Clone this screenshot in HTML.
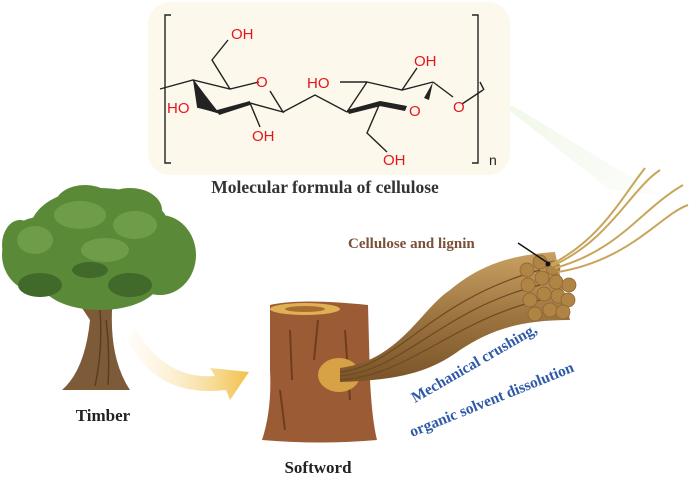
<!DOCTYPE html>
<html><head><meta charset="utf-8"><style>
html,body{margin:0;padding:0;background:#fff;}
svg{display:block}
</style></head><body>
<svg width="691" height="504" viewBox="0 0 691 504" xmlns="http://www.w3.org/2000/svg" font-family="Liberation Serif, serif">
<defs>
<linearGradient id="arr" x1="0" y1="0" x2="1" y2="0">
<stop offset="0" stop-color="#fdf3d8" stop-opacity="0.2"/><stop offset="1" stop-color="#f2c04a"/>
</linearGradient>
<linearGradient id="beam" x1="0" y1="0" x2="1" y2="1">
<stop offset="0" stop-color="#eef6e4" stop-opacity="0.9"/><stop offset="1" stop-color="#f3f8ec" stop-opacity="0.3"/>
</linearGradient>
<linearGradient id="fib" x1="0" y1="0" x2="0" y2="1">
<stop offset="0" stop-color="#c9a062"/><stop offset="0.5" stop-color="#9c7440"/><stop offset="1" stop-color="#7a5428"/>
</linearGradient>
</defs>
<polygon points="490,95 520,110 660,195 610,190" fill="url(#beam)"/>
<rect x="148" y="2" width="362" height="173" rx="22" fill="#fcf9ec"/>
<g stroke="#222" stroke-width="1.4" fill="none">
<path d="M171,15 H165 V163 H171"/>
<path d="M472,15 H478 V163 H472"/>
<path d="M160,89 L193,80 L230,89 L259,82"/>
<path d="M270,91 L283,112 L250,103 L217,112 L193,80"/>
<path d="M230,89 L212,60 L228,40"/>
<path d="M250,103 L260,127"/>
<path d="M197,107 L217,112"/>
<path d="M283,112 L315,95 L347,112"/>
<path d="M347,112 L367,82 L402,90 L433,82"/>
<path d="M340,82 L367,82"/>
<path d="M347,112 L380,103 L405,108"/>
<path d="M380,103 L367,133 L387,152"/>
<path d="M402,90 L417,68"/>
<path d="M433,82 L453,97"/>
<path d="M462,104 L483,90"/>
<path d="M480,82 L484,90"/>
</g>
<g fill="#222">
<polygon points="193,80 197,107 220,114 216,109"/>
<polygon points="217,110 250,101 250,105 219,115"/>
<polygon points="347,110 380,101 381,106 349,114"/>
<polygon points="380,101 407,106 405,111 380,106"/>
<polygon points="433,82 429,100 424,98"/>
</g>
<g fill="#e8141c" font-family="Liberation Sans, sans-serif" font-size="15">
<text x="231" y="39">OH</text>
<text x="167" y="113">HO</text>
<text x="252" y="141">OH</text>
<text x="256" y="87">O</text>
<text x="307" y="88">HO</text>
<text x="414" y="66">OH</text>
<text x="409" y="116">O</text>
<text x="453" y="112">O</text>
<text x="383" y="165">OH</text>
</g>
<text x="489" y="165" font-family="Liberation Sans, sans-serif" font-size="14" fill="#222">n</text>
<text x="325" y="193" text-anchor="middle" font-size="17.5" font-weight="bold" fill="#333">Molecular formula of cellulose</text>

<!-- curved arrow -->
<path d="M135,328 Q165,380 215,376 L210,368 L249,372 L230,400 L226,390 Q155,398 128,340 Z" fill="url(#arr)"/>

<!-- tree trunk -->
<path d="M62,390 Q85,370 90,320 L70,290 L78,285 L95,305 L92,280 L100,280 L103,300 L120,280 L128,285 L112,310 Q110,360 130,390 Z" fill="#7d5a38"/>
<path d="M95,386 Q103,350 100,310 M108,385 Q110,350 106,320" stroke="#5a3e22" stroke-width="1.5" fill="none"/>
<!-- canopy -->
<g fill="#5a8a38">
<ellipse cx="100" cy="230" rx="70" ry="42"/>
<ellipse cx="40" cy="255" rx="38" ry="38"/>
<ellipse cx="160" cy="255" rx="36" ry="40"/>
<ellipse cx="100" cy="280" rx="60" ry="30"/>
<ellipse cx="85" cy="205" rx="30" ry="20"/>
<ellipse cx="130" cy="210" rx="32" ry="22"/>
<ellipse cx="20" cy="245" rx="18" ry="25"/>
</g>
<g fill="#6f9c48">
<ellipse cx="80" cy="215" rx="26" ry="14"/>
<ellipse cx="135" cy="225" rx="22" ry="14"/>
<ellipse cx="35" cy="240" rx="18" ry="14"/>
<ellipse cx="105" cy="250" rx="24" ry="12"/>
</g>
<g fill="#40692a">
<ellipse cx="40" cy="285" rx="22" ry="12"/>
<ellipse cx="130" cy="285" rx="22" ry="12"/>
<ellipse cx="90" cy="270" rx="18" ry="8"/>
</g>
<text x="103" y="421" text-anchor="middle" font-size="17" font-weight="bold" fill="#222">Timber</text>

<!-- stump -->
<path d="M270,305 Q300,298 368,305 L370,380 Q372,420 377,440 Q320,445 262,440 Q272,410 270,370 Z" fill="#9b5c35"/>
<ellipse cx="305" cy="309" rx="35" ry="6" fill="#e0b054"/>
<ellipse cx="305" cy="309" rx="20" ry="3" fill="#a86c30"/>
<path d="M290,330 L292,380 M318,320 L314,360 M345,330 L350,400 M280,390 L285,430" stroke="#6f3d1e" stroke-width="2" fill="none"/>
<ellipse cx="339" cy="375" rx="21" ry="17" fill="#d7a146"/>
<text x="318" y="473" text-anchor="middle" font-size="17" font-weight="bold" fill="#222">Softword</text>

<!-- fibers -->
<path d="M340,368 C400,360 420,310 450,290 C480,265 510,255 555,252 L570,320 C520,320 490,330 460,350 C430,372 400,380 340,382 Z" fill="url(#fib)"/>
<g stroke="#6e4a22" stroke-width="1.2" fill="none">
<path d="M340,372 C400,365 430,300 540,270"/>
<path d="M340,376 C405,370 440,310 540,285"/>
<path d="M340,380 C410,375 450,322 540,300"/>
</g>
<g fill="#b08444" stroke="#8a6230" stroke-width="0.7">
<circle cx="527" cy="270" r="7"/><circle cx="540" cy="262" r="7"/><circle cx="553" cy="268" r="7"/>
<circle cx="528" cy="285" r="7"/><circle cx="542" cy="278" r="7"/><circle cx="556" cy="282" r="7"/><circle cx="569" cy="285" r="7"/>
<circle cx="530" cy="300" r="7"/><circle cx="544" cy="294" r="7"/><circle cx="558" cy="296" r="7"/><circle cx="568" cy="300" r="7"/>
<circle cx="535" cy="314" r="7"/><circle cx="550" cy="310" r="7"/><circle cx="563" cy="312" r="7"/>
</g>
<g stroke="#c8a55a" stroke-width="2" fill="none">
<path d="M550,265 C600,240 620,200 645,168"/>
<path d="M552,266 C610,240 630,190 660,170"/>
<path d="M555,268 C620,250 640,210 683,185"/>
<path d="M558,272 C630,260 660,215 688,205"/>
</g>
<line x1="518" y1="243" x2="548" y2="263" stroke="#111" stroke-width="1.5"/>
<circle cx="548" cy="264" r="2.5" fill="#111"/>
<text x="348" y="248" font-size="15" font-weight="bold" fill="#7a5038">Cellulose and lignin</text>
<g font-size="15.5" font-weight="bold" fill="#2f5aa8">
<text transform="translate(415,403) rotate(-30)">Mechanical crushing,</text>
<text transform="translate(412,437) rotate(-22)">organic solvent dissolution</text>
</g>
</svg>
</body></html>
